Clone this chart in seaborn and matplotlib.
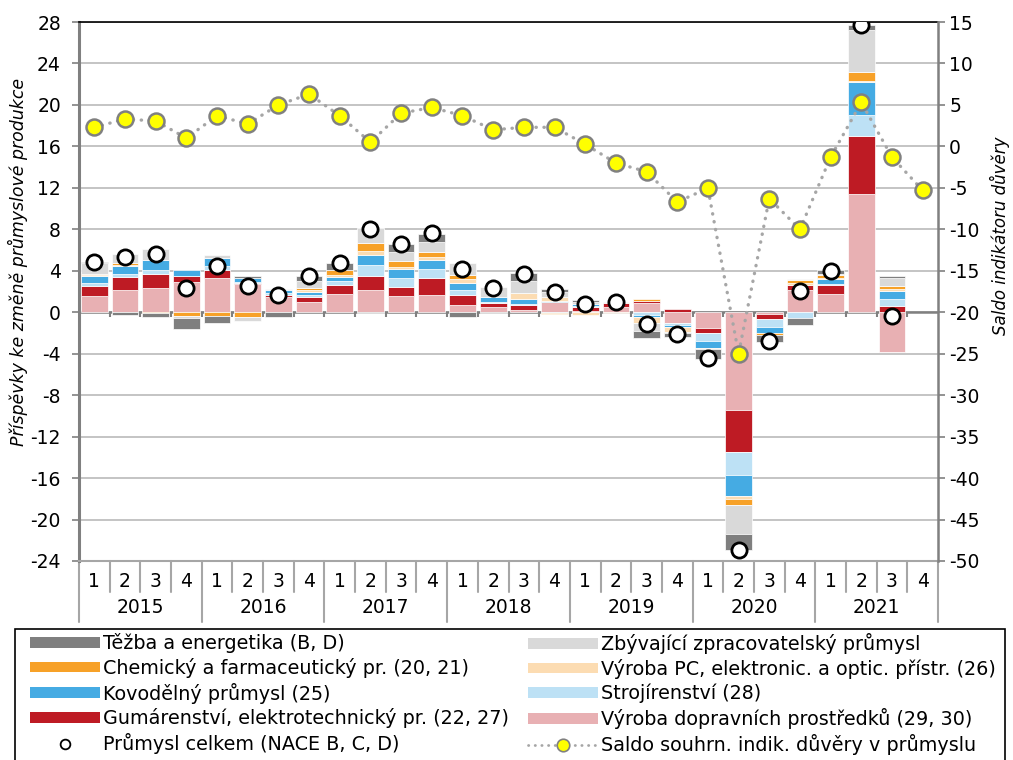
import numpy as np
import pandas as pd
import matplotlib
matplotlib.use("Agg")
import matplotlib.pyplot as plt
import matplotlib.transforms as mtransforms
import seaborn as sns
from matplotlib.patches import Patch, Rectangle
from matplotlib.lines import Line2D

# --- data -------------------------------------------------------------------
years = ["2015", "2016", "2017", "2018", "2019", "2020", "2021"]
quarters = ["1", "2", "3", "4"]
periods = [f"{y}-Q{q}" for y in years for q in quarters]

# contributions (p.b.), stacked from the zero line outward in this order
doprava = [1.54, 2.19, 2.35, 2.89, 3.31, 2.70, 1.48, 1.03, 1.74, 2.12, 1.58, 1.67, 0.71, 0.51,
           0.26, 1.00, 0.10, 0.48, 0.90, -1.05, -1.54, -9.45, -0.16, 2.10, 1.80, 11.45, -3.86, 0]
gumar = [1.03, 1.19, 1.38, 0.58, 0.74, 0.16, 0.22, 0.42, 0.84, 1.38, 0.84, 1.61, 0.96, 0.35,
         0.42, 0, 0.38, 0.39, 0.22, 0.30, -0.51, -4.02, -0.48, 0.55, 0.87, 5.53, 0.64, 0]
stroj = [0.25, 0.35, 0.32, 0.05, 0.45, 0.10, 0.20, 0.25, 0.39, 1.06, 0.87, 0.87, 0.51, 0.16,
         0.16, -0.12, 0.10, 0, -0.22, -0.22, -0.74, -2.19, -0.80, -0.55, 0.10, 2.09, 0.64, 0]
kovo = [0.65, 0.71, 1.03, 0.60, 0.74, 0.30, 0.22, 0.30, 0.42, 0.93, 0.87, 0.93, 0.61, 0.45,
        0.45, 0.12, 0.20, 0, -0.22, -0.16, -0.64, -2.03, -0.55, -0.05, 0.45, 3.12, 0.74, 0]
pc = [0.15, 0.13, 0, 0, 0, 0, 0, 0.15, 0.16, 0.39, 0.22, 0.26, 0.42, 0,
      0.58, 0.32, -0.30, -0.05, -0.58, -0.45, -0.10, -0.32, 0, 0.15, 0.13, 0.16, 0.22, 0]
chem = [0.05, 0.19, -0.10, -0.35, -0.40, -0.45, 0, 0.15, 0.51, 0.77, 0.61, 0.45, 0.42, 0,
        0, -0.06, 0, 0, 0.16, 0, 0, -0.55, -0.22, 0.35, 0.26, 0.80, 0.32, 0]
zbyv = [1.10, 0.90, 1.06, -0.20, 0.32, -0.35, 0.13, 0.70, 0, 1.48, 0.80, 1.03, 1.16, 0.96,
        1.13, 0.48, 0.20, 0.10, -0.80, -0.15, 0, -2.83, 0, 0.05, 0.10, 4.12, 0.74, 0]
tezba = [0.05, -0.30, -0.35, -1.10, -0.60, 0.20, -0.50, 0.50, 0.71, -0.10, 0.77, 0.74, -0.50, -0.05,
         0.77, 0.35, 0.17, 0, -0.64, -0.32, -0.96, -1.58, -0.68, -0.60, 0.32, 0.48, 0.23, 0]

celkem = [4.85, 5.30, 5.66, 2.38, 4.47, 2.57, 1.64, 3.50, 4.79, 8.04, 6.56, 7.60, 4.21, 2.38,
          3.73, 1.96, 0.84, 0.96, -1.13, -2.06, -4.44, -22.96, -2.80, 2.07, 3.94, 27.75, -0.32, np.nan]
saldo = [2.3, 3.3, 3.06, 1.0, 3.7, 2.7, 5.0, 6.3, 3.7, 0.5, 4.0, 4.7, 3.7, 2.0,
         2.3, 2.3, 0.25, -2.0, -3.05, -6.7, -5.05, -25.0, -6.3, -10.0, -1.3, 5.3, -1.3, -5.3]

names = {
    "tezba": "Těžba a energetika (B, D)",
    "chem": "Chemický a farmaceutický pr. (20, 21)",
    "kovo": "Kovodělný průmysl (25)",
    "gumar": "Gumárenství, elektrotechnický pr. (22, 27)",
    "celkem": "Průmysl celkem (NACE B, C, D)",
    "zbyv": "Zbývající zpracovatelský průmysl",
    "pc": "Výroba PC, elektronic. a optic. přístr. (26)",
    "stroj": "Strojírenství (28)",
    "doprava": "Výroba dopravních prostředků (29, 30)",
    "saldo": "Saldo souhrn. indik. důvěry v průmyslu",
}
colors = {
    "doprava": "#e8b0b3", "gumar": "#be1b24", "stroj": "#bde1f5", "kovo": "#45abe3",
    "pc": "#fcdcb2", "chem": "#f7a128", "zbyv": "#d9d9d9", "tezba": "#7f7f7f",
}
stack = [("doprava", doprava), ("gumar", gumar), ("stroj", stroj), ("kovo", kovo),
         ("pc", pc), ("chem", chem), ("zbyv", zbyv), ("tezba", tezba)]

# --- figure -----------------------------------------------------------------
sns.set_theme(style="white")
plt.rcParams['font.family'] = ['DejaVu Sans']
plt.rcParams['axes.unicode_minus'] = False
plt.rcParams['text.color'] = 'black'
plt.rcParams['xtick.labelcolor'] = 'black'
plt.rcParams['ytick.labelcolor'] = 'black'

fig = plt.figure(figsize=(10.13, 7.6), dpi=100)
ax = fig.add_axes([79 / 1013, 1 - 561 / 760, (938 - 79) / 1013, (561 - 22) / 760])

n = len(periods)
pos = np.arange(n)
pos_base = np.zeros(n)
neg_base = np.zeros(n)
for key, vals in stack:
    v = np.array(vals, dtype=float)
    bottom = np.where(v >= 0, pos_base, neg_base)
    mask = v != 0
    df = pd.DataFrame({"obdobi": np.array(periods)[mask], "hodnota": v[mask]})
    sns.barplot(data=df, x="obdobi", y="hodnota", order=periods, bottom=bottom[mask],
                color=colors[key], saturation=1, width=0.87, edgecolor="white",
                linewidth=0.5, errorbar=None, ax=ax, zorder=2)
    pos_base += np.where(v > 0, v, 0)
    neg_base += np.where(v < 0, v, 0)

sns.scatterplot(x=pos, y=celkem, s=120, color="white", edgecolor="black",
                linewidth=2.0, ax=ax, zorder=5)

ax.set_xlim(-0.5, n - 0.5)
ax.set_ylim(-24, 28)
ax.set_yticks(np.arange(-24, 29, 4))
ax.yaxis.grid(True, color="#bfbfbf", linewidth=1.3)
ax.set_axisbelow(True)
ax.axhline(0, color="#808080", linewidth=1.8, zorder=1)
ax.vlines(pos[:-1] + 0.5, -0.45, 0, color="#808080", linewidth=1.5, zorder=1)

ax.set_xticks(pos)
ax.set_xticklabels(quarters * len(years), fontsize=13.5)
ax.tick_params(axis="x", length=0, pad=8, labelcolor="black")
ax.tick_params(axis="y", labelsize=13.5, length=5, width=1.2, color="#808080",
               direction="out", left=True, pad=8, labelcolor="black")
ax.set_xlabel("")
ax.set_ylabel("")

ax.spines["left"].set_color("#808080")
ax.spines["left"].set_linewidth(2.2)
ax.spines["bottom"].set_color("#a6a6a6")
ax.spines["bottom"].set_linewidth(1.5)
ax.spines["top"].set_color("black")
ax.spines["top"].set_linewidth(1.2)
ax.spines["right"].set_visible(False)

# two-level category axis
trans = mtransforms.blended_transform_factory(ax.transData, ax.transAxes)
for k in range(n + 1):
    depth = -0.113 if k % 4 == 0 else -0.0575
    ax.plot([k - 0.5, k - 0.5], [0, depth], transform=trans, color="#a6a6a6",
            linewidth=1.5, clip_on=False)
for i, y in enumerate(years):
    ax.text(4 * i + 1.5, -0.087, y, transform=trans, ha="center", va="center",
            fontsize=13.5, color="black")

# secondary axis: confidence indicator
ax2 = ax.twinx()
sns.lineplot(x=pos, y=saldo, ax=ax2, color="#a6a6a6", linewidth=2.4,
             linestyle=(0, (0.1, 2.3)), dash_capstyle="round", marker="o",
             markersize=11.5, markerfacecolor="#ffff00", markeredgecolor="#808080",
             markeredgewidth=1.8, zorder=6, sort=False)
ax2.set_ylim(-50, 15)
ax2.set_yticks(np.arange(-50, 16, 5))
ax2.tick_params(axis="y", labelsize=13.5, length=5, width=1.2, color="#808080",
                direction="out", right=True, pad=3, labelcolor="black")
ax2.set_ylabel("")
for s in ["left", "top", "bottom"]:
    ax2.spines[s].set_visible(False)
ax2.spines["right"].set_color("#808080")
ax2.spines["right"].set_linewidth(1.8)

fig.text(18 / 1013, 1 - 262 / 760, "Příspěvky ke změně průmyslové produkce", rotation=90,
         ha="center", va="center", fontsize=12.5, style="italic", color="black")
fig.text(1000 / 1013, 1 - 236 / 760, "Saldo indikátoru důvěry", rotation=90,
         ha="center", va="center", fontsize=12, style="italic", color="black")

# legend
fig.patches.append(Rectangle((15 / 1013, -0.05), (1005 - 15) / 1013, (760 - 629) / 760 + 0.05,
                             transform=fig.transFigure, fill=False, edgecolor="black",
                             linewidth=1.2))


def patch(key):
    return Patch(facecolor=colors[key], edgecolor="none")


left_h = [patch("tezba"), patch("chem"), patch("kovo"), patch("gumar"),
          Line2D([], [], linestyle="none", marker="o", markersize=7, markerfacecolor="white",
                 markeredgecolor="black", markeredgewidth=1.3)]
left_l = [names[k] for k in ["tezba", "chem", "kovo", "gumar", "celkem"]]
right_h = [patch("zbyv"), patch("pc"), patch("stroj"), patch("doprava"),
           Line2D([], [], color="#a6a6a6", linewidth=2.0, linestyle=(0, (0.1, 2.3)),
                  dash_capstyle="round", marker="o", markersize=9, markerfacecolor="#ffff00",
                  markeredgecolor="#808080", markeredgewidth=1.2)]
right_l = [names[k] for k in ["zbyv", "pc", "stroj", "doprava", "saldo"]]

leg_kw = dict(loc="upper left", frameon=False, fontsize=13.8, handlelength=3.65,
              handleheight=0.5, handletextpad=0.15, labelspacing=0.25, borderpad=0,
              borderaxespad=0, labelcolor="black")
fig.legend(left_h, left_l, bbox_to_anchor=(30 / 1013, 1 - 633 / 760), **leg_kw)
fig.legend(right_h, right_l, bbox_to_anchor=(528 / 1013, 1 - 633 / 760), **leg_kw)

fig.savefig("out.png", dpi=100, facecolor="white")
